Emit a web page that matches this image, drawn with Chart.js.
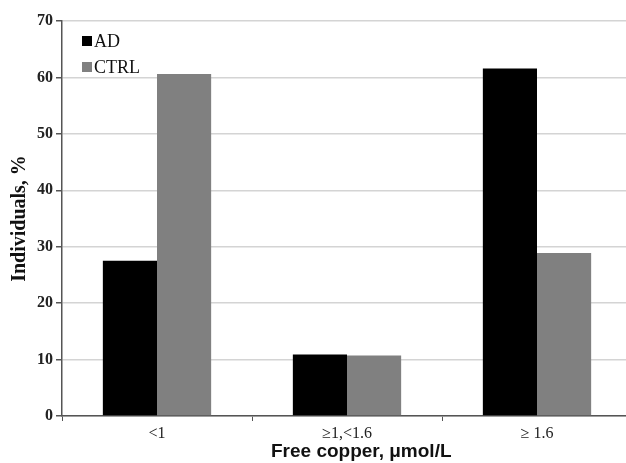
<!DOCTYPE html>
<html>
<head>
    <meta charset="utf-8">
    <script src="https://cdn.jsdelivr.net/npm/chart.js"></script>
    <style>
        html, body { margin: 0; padding: 0; background: #fff; overflow: hidden; }
        #wrap { width: 632px; height: 463px; }
    </style>
</head>
<body>
<div id="wrap"><canvas id="copperChart"></canvas></div>

<script>
    var categories = ['<1', '\u22651,<1.6', '\u2265 1.6'];
    var adValues = [27.5, 10.9, 61.6];
    var ctrlValues = [60.6, 10.7, 28.9];
    var yTicks = [0, 10, 20, 30, 40, 50, 60, 70];

    // legend drawn inside the plot, top-left, like the original figure
    var insideLegend = {
        id: 'insideLegend',
        afterDatasetsDraw: function(chart) {
            var ctx = chart.ctx;
            var area = chart.chartArea;
            ctx.save();
            ctx.font = '18px "Liberation Serif", serif';
            ctx.textBaseline = 'middle';
            chart.data.datasets.forEach(function(ds, i) {
                var y = area.top + 20 + i * 26;
                var x = area.left + 20;
                ctx.fillStyle = ds.backgroundColor;
                ctx.fillRect(x, y - 5, 10, 10);
                ctx.fillStyle = '#111';
                ctx.fillText(ds.label, x + 12, y + 1);
            });
            ctx.restore();
        }
    };

    var ctx = document.getElementById('copperChart');
    new Chart(ctx, {
        type: 'bar',
        data: {
            labels: categories,
            datasets: [
                {
                    label: 'AD',
                    data: adValues,
                    backgroundColor: '#000000',
                    borderWidth: 0,
                    categoryPercentage: 0.57,
                    barPercentage: 1.0
                },
                {
                    label: 'CTRL',
                    data: ctrlValues,
                    backgroundColor: '#808080',
                    borderWidth: 0,
                    categoryPercentage: 0.57,
                    barPercentage: 1.0
                }
            ]
        },
        options: {
            responsive: true,
            maintainAspectRatio: false,
            animation: false,
            layout: { padding: { top: 21, right: 0, left: 0, bottom: 0 } },
            plugins: {
                legend: { display: false },
                tooltip: { enabled: false }
            },
            scales: {
                x: {
                    grid: {
                        offset: true,
                        drawOnChartArea: false,
                        drawTicks: true,
                        tickLength: 5,
                        tickColor: '#555'
                    },
                    border: { color: '#555', width: 1.5 },
                    ticks: {
                        color: '#222',
                        font: { family: '"Liberation Serif", serif', size: 16 },
                        padding: 3
                    },
                    title: {
                        display: true,
                        // leading spaces nudge the title right, as in the figure
                        text: '\u2002\u2002\u2002Free copper, \u03bcmol/L',
                        color: '#111',
                        font: { family: '"Liberation Sans", Arial, sans-serif', size: 19, weight: 'bold' },
                        padding: { top: 1, bottom: 0 }
                    },
                    afterFit: function(scale) { scale.height = 47; }
                },
                y: {
                    min: 0,
                    max: 70,
                    afterBuildTicks: function(scale) {
                        scale.ticks = yTicks.map(function(v) { return { value: v }; });
                    },
                    grid: {
                        color: '#d4d4d4',
                        lineWidth: 1.5,
                        tickColor: '#555',
                        tickLength: 6
                    },
                    border: { color: '#555', width: 1.5 },
                    ticks: {
                        color: '#222',
                        font: { family: '"Liberation Serif", serif', size: 16, weight: 'bold' },
                        padding: 3
                    },
                    title: {
                        display: true,
                        text: 'Individuals, %',
                        color: '#111',
                        font: { family: '"Liberation Serif", serif', size: 20, weight: 'bold' },
                        padding: { top: 8, bottom: 0 }
                    },
                    afterFit: function(scale) { scale.width = 62; }
                }
            }
        },
        plugins: [insideLegend]
    });
</script>
</body>
</html>
